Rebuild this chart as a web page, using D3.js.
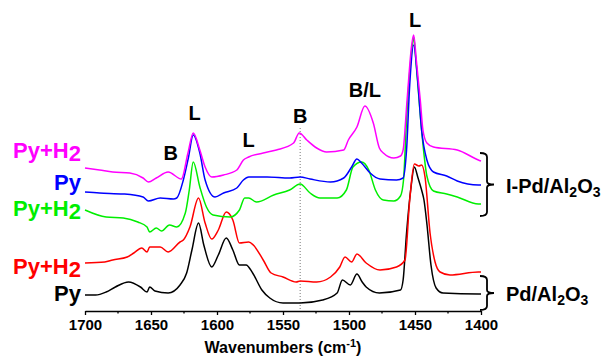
<!DOCTYPE html>
<html>
<head>
<meta charset="utf-8">
<script src="https://cdn.jsdelivr.net/npm/d3@7"></script>
<style>
  body { margin: 0; background: #fff; }
  svg { font-family: Arial, "Liberation Sans", sans-serif; font-weight: bold; }
</style>
</head>
<body>
<svg width="610" height="356"></svg>
<script>
// données : [nombre d'onde, absorbance (u.a.)]
const majorTicks = [1700, 1650, 1600, 1550, 1500, 1450, 1400];
const minorTicks = [1675, 1625, 1575, 1525, 1475, 1425];

// Pd/Al2O3, Py (noir)
const pyPd = [
  [1700, 0.16], [1692, 0.16], [1684, 0.19], [1677, 0.24], [1667, 0.29], [1658, 0.24],
  [1653, 0.19], [1651, 0.24], [1647, 0.20], [1637, 0.18], [1628, 0.26], [1623, 0.38],
  [1619, 0.61], [1614, 0.88], [1610, 0.66], [1604, 0.44], [1599, 0.56], [1593, 0.73],
  [1588, 0.61], [1583, 0.46], [1578, 0.46], [1573, 0.38], [1566, 0.21], [1560, 0.13],
  [1550, 0.08], [1537, 0.08], [1520, 0.11], [1509, 0.18], [1505, 0.31], [1499, 0.26],
  [1494, 0.37], [1490, 0.29], [1487, 0.24], [1477, 0.18], [1461, 0.21], [1459, 0.31],
  [1456.4, 0.78], [1453, 1.24], [1450.5, 1.44], [1447.7, 1.33], [1445, 1.21],
  [1443.2, 1.11], [1440.9, 0.86], [1437.9, 0.46], [1434, 0.23], [1428.8, 0.18],
  [1402, 0.17], [1400, 0.17]
];

// Pd/Al2O3, Py+H2 (rouge)
const pyH2Pd = [
  [1700, 0.48], [1685, 0.49], [1679, 0.51], [1668, 0.54], [1663, 0.58], [1657, 0.63],
  [1653, 0.59], [1651, 0.64], [1643, 0.64], [1637, 0.59], [1628, 0.69], [1625.5, 0.71],
  [1620.5, 0.84], [1614, 1.13], [1609, 0.88], [1604, 0.72], [1599, 0.81], [1593, 0.99],
  [1588, 0.91], [1583, 0.68], [1576, 0.69], [1572.5, 0.66], [1565, 0.51], [1559, 0.38],
  [1550, 0.34], [1540, 0.29], [1537, 0.30], [1524.5, 0.29], [1514, 0.34], [1507, 0.44],
  [1503, 0.54], [1498, 0.49], [1494, 0.57], [1487, 0.48], [1476.5, 0.41], [1464, 0.44],
  [1457.6, 0.51], [1454, 1.11], [1450.5, 1.47], [1447, 1.45], [1445, 1.46],
  [1442.4, 1.34], [1438.6, 0.78], [1434.8, 0.49], [1431, 0.39], [1423.5, 0.36],
  [1402, 0.39], [1400, 0.39]
];

// I-Pd/Al2O3, Py+H2 (vert)
const pyH2IPdA = [
  [1700, 1.01], [1684, 0.94], [1671, 0.93], [1660, 0.89], [1653, 0.84], [1651, 0.79],
  [1646, 0.83], [1642, 0.80], [1636, 0.86], [1630.5, 0.84], [1624, 0.98], [1621, 1.21],
  [1618, 1.49], [1613, 1.24], [1608, 1.04], [1603, 0.96], [1590, 0.94], [1583, 1.01],
  [1579, 1.13], [1576, 1.13], [1570, 1.09], [1557, 1.16], [1545, 1.21], [1537, 1.27],
  [1529.5, 1.18], [1522, 1.13], [1509, 1.13], [1502, 1.21], [1497, 1.44], [1490.5, 1.49],
  [1485, 1.41], [1480, 1.21], [1474, 1.11], [1466, 1.10], [1461, 1.15], [1458.7, 1.31],
  [1456.4, 1.91], [1452, 2.66], [1451, 2.74], [1449, 2.45], [1445, 1.81], [1441, 1.35],
  [1436, 1.20], [1426, 1.17], [1418, 1.14], [1402, 1.07], [1400, 1.07]
];

// I-Pd/Al2O3, Py (bleu)
const pyIPd = [
  [1700, 1.19], [1689, 1.18], [1671, 1.17], [1656, 1.14], [1652, 1.10], [1643, 1.13],
  [1633, 1.12], [1630.5, 1.13], [1625.5, 1.31], [1621.7, 1.53], [1618, 1.76], [1613, 1.58],
  [1609, 1.31], [1601.5, 1.14], [1595, 1.18], [1585, 1.23], [1580, 1.31], [1576, 1.34],
  [1562, 1.34], [1545, 1.33], [1537, 1.34], [1529.5, 1.32], [1514, 1.29], [1504, 1.33],
  [1498, 1.44], [1494, 1.52], [1490.5, 1.48], [1484, 1.38], [1476.5, 1.32], [1464, 1.31],
  [1459, 1.33], [1456.4, 1.61], [1454, 2.26], [1451, 2.66], [1448, 2.31], [1445, 1.81],
  [1441, 1.51], [1436, 1.39], [1426, 1.35], [1418, 1.30], [1402, 1.26], [1400, 1.26]
];

// I-Pd/Al2O3, Py+H2 (magenta)
const pyH2IPdB = [
  [1700, 1.43], [1689, 1.41], [1679, 1.39], [1666, 1.38], [1656, 1.33], [1652, 1.29],
  [1646, 1.33], [1637, 1.39], [1627, 1.32], [1622, 1.58], [1618, 1.78], [1613, 1.61],
  [1609, 1.44], [1604, 1.34], [1595, 1.36], [1585, 1.41], [1580, 1.51], [1576, 1.54],
  [1565, 1.58], [1555, 1.61], [1542, 1.68], [1537.7, 1.78], [1532, 1.71], [1524.5, 1.63],
  [1517, 1.59], [1504, 1.61], [1500.5, 1.71], [1494, 1.84], [1488, 2.05], [1481.6, 1.88],
  [1477, 1.63], [1474, 1.58], [1466, 1.53], [1461, 1.55], [1459, 1.61], [1456, 2.11],
  [1452.5, 2.66], [1451, 2.76], [1449, 2.51], [1446, 2.11], [1444, 1.81], [1441, 1.68],
  [1436, 1.64], [1418, 1.61], [1402, 1.51], [1400, 1.50]
];

const series = [pyPd, pyH2Pd, pyH2IPdA, pyIPd, pyH2IPdB];
const couleurs = ["#000000", "#ff0000", "#00ee00", "#0000ff", "#ff00ff"];
const etiquettes = ["Py", "Py+H2", "Py+H2", "Py", "Py+H2"];

// bandes annotées : [nombre d'onde, absorbance, texte]
const bandes = [
  [1635, 1.51, "B"], [1617, 1.91, "L"], [1576, 1.64, "L"],
  [1537, 1.88, "B"], [1488, 2.14, "B/L"], [1450, 2.84, "L"]
];
const ligneB = 1537;

// II. Dessin
let svg = d3.select("svg");

let x = d3.scaleLinear().domain([1700, 1400]).range([85, 481]);
let y = d3.scaleLinear().domain([0, 3]).range([311, 11]);

// ligne pointillée de la bande B
svg.append("line")
    .attr("x1", x(ligneB))
    .attr("x2", x(ligneB))
    .attr("y1", y(1.83))
    .attr("y2", y(0))
    .attr("stroke", "#777")
    .attr("stroke-width", 1)
    .attr("stroke-dasharray", "1,2");

let ligne = d3.line()
    .x(d => x(d[0]))
    .y(d => y(d[1]))
    .curve(d3.curveMonotoneX);

series.forEach(function (s, i) {
    svg.append("path")
        .datum(s)
        .attr("d", ligne)
        .attr("fill", "none")
        .attr("stroke", couleurs[i])
        .attr("stroke-width", 1.5)
        .attr("stroke-linejoin", "round");
});

// axe des x
let axe = svg.append("g")
    .attr("transform", "translate(0," + y(0) + ")")
    .call(d3.axisBottom(x)
        .tickValues(majorTicks)
        .tickFormat(d3.format("d"))
        .tickSize(4)
        .tickSizeOuter(0)
        .tickPadding(4));

axe.select(".domain").attr("stroke-width", 1.5);
axe.selectAll(".tick line").attr("stroke-width", 1.3);
axe.selectAll(".tick text")
    .attr("font-size", 15)
    .attr("font-weight", "bold")
    .attr("font-family", "Arial, 'Liberation Sans', sans-serif");

axe.selectAll("line.mineur")
    .data(minorTicks)
    .enter()
    .append("line")
    .attr("class", "mineur")
    .attr("x1", d => x(d))
    .attr("x2", d => x(d))
    .attr("y1", 0)
    .attr("y2", 2.5)
    .attr("stroke", "black")
    .attr("stroke-width", 1.3);

let titre = svg.append("text")
    .attr("x", 283)
    .attr("y", 353)
    .attr("text-anchor", "middle")
    .attr("font-size", 16);
titre.append("tspan").text("Wavenumbers (cm");
titre.append("tspan").attr("font-size", 11).attr("dy", -6).text("-1");
titre.append("tspan").attr("dy", 6).text(")");

// annotations des bandes
svg.selectAll("text.bande")
    .data(bandes)
    .enter()
    .append("text")
    .attr("class", "bande")
    .attr("x", d => x(d[0]))
    .attr("y", d => y(d[1]))
    .attr("text-anchor", "middle")
    .attr("font-size", 20)
    .text(d => d[2]);

// étiquettes à gauche
let basesEtiquettes = [301, 274, 216, 190, 158];
etiquettes.forEach(function (t, i) {
    let txt = svg.append("text")
        .attr("x", 81)
        .attr("y", basesEtiquettes[i])
        .attr("text-anchor", "end")
        .attr("font-size", 22)
        .attr("fill", couleurs[i]);
    if (t.endsWith("H2")) {
        txt.append("tspan").text("Py+H");
        txt.append("tspan").attr("dy", 3).text("2");
    } else {
        txt.text(t);
    }
});

// accolades à droite
function accolade(y1, y2, nom) {
    let ym = (y1 + y2) / 2;
    let p = d3.path();
    p.moveTo(480, y1);
    p.quadraticCurveTo(487, y1, 487, y1 + 4);
    p.lineTo(487, ym - 3);
    p.quadraticCurveTo(487, ym, 494, ym);
    p.quadraticCurveTo(487, ym, 487, ym + 3);
    p.lineTo(487, y2 - 4);
    p.quadraticCurveTo(487, y2, 480, y2);
    svg.append("path")
        .attr("d", p.toString())
        .attr("fill", "none")
        .attr("stroke", "black")
        .attr("stroke-width", 1.8);

    let txt = svg.append("text")
        .attr("x", 506)
        .attr("y", ym + 8)
        .attr("font-size", 20);
    nom.forEach(function (morceau) {
        if (morceau.sub) {
            txt.append("tspan").attr("font-size", 14).attr("dy", 4).text(morceau.t);
        } else {
            txt.append("tspan").attr("dy", morceau.apres ? -4 : 0).text(morceau.t);
        }
    });
}

accolade(153, 216, [{t: "I-Pd/Al"}, {t: "2", sub: true}, {t: "O", apres: true}, {t: "3", sub: true}]);
accolade(276, 310, [{t: "Pd/Al"}, {t: "2", sub: true}, {t: "O", apres: true}, {t: "3", sub: true}]);
</script>
</body>
</html>
